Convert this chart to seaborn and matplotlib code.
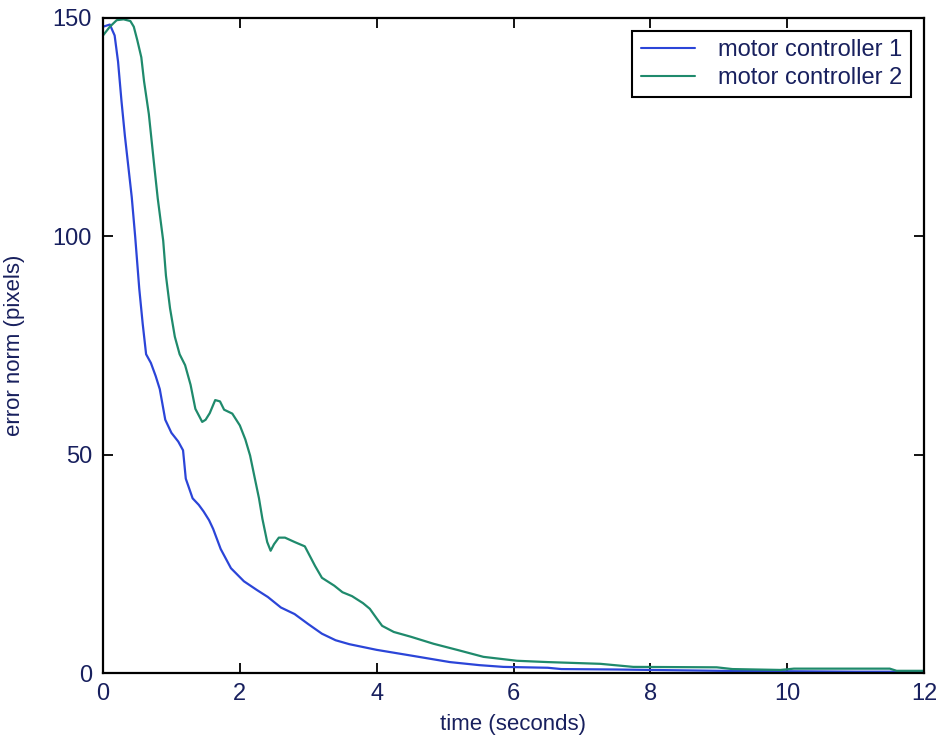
import matplotlib
matplotlib.use("Agg")
import matplotlib.pyplot as plt
import numpy as np
import pandas as pd
import seaborn as sns

# Error norm over time for the two motor controllers
t_ctrl1 = [0.0, 0.1, 0.17, 0.22, 0.27, 0.32, 0.37, 0.42, 0.47, 0.53, 0.58, 0.63,
           0.70, 0.77, 0.83, 0.91, 1.00, 1.10, 1.17, 1.21, 1.31, 1.40, 1.47, 1.55,
           1.61, 1.72, 1.87, 2.06, 2.25, 2.41, 2.60, 2.80, 3.00, 3.20, 3.40, 3.60,
           4.00, 4.50, 5.07, 5.50, 5.85, 6.50, 6.70, 7.50, 8.00, 9.00, 10.0, 11.0, 12.0]
err_ctrl1 = [148, 148.5, 146, 140, 131, 123, 116, 109, 100, 88, 80, 73,
             71, 68, 65, 58, 55, 53, 51, 44.5, 40, 38.5, 37, 35,
             33, 28.4, 24, 21, 19, 17.4, 15, 13.5, 11.2, 9, 7.5, 6.6,
             5.3, 4, 2.5, 1.8, 1.4, 1.2, 0.9, 0.8, 0.7, 0.5, 0.4, 0.3, 0.3]

t_ctrl2 = [0.0, 0.1, 0.2, 0.3, 0.4, 0.45, 0.5, 0.56, 0.6, 0.67, 0.75, 0.8,
           0.88, 0.92, 0.98, 1.05, 1.12, 1.2, 1.28, 1.35, 1.45, 1.5, 1.56, 1.64,
           1.71, 1.77, 1.89, 2.0, 2.08, 2.15, 2.22, 2.28, 2.33, 2.40, 2.45, 2.50,
           2.57, 2.66, 2.8, 2.95, 3.05, 3.1, 3.2, 3.38, 3.5, 3.64, 3.8, 3.9,
           4.0, 4.08, 4.25, 4.5, 4.83, 5.2, 5.56, 6.05, 6.5, 7.27, 7.75, 8.97,
           9.2, 9.9, 10.1, 11.5, 11.6, 12.0]
err_ctrl2 = [146, 148, 149.5, 149.7, 149.3, 148, 145, 141, 135.5, 128, 116, 108.7,
             99, 91, 83.5, 77, 73, 70.5, 66, 60.5, 57.5, 58, 59.5, 62.5,
             62.2, 60.3, 59.4, 56.7, 53.5, 49.8, 44.5, 40, 35.3, 30, 28, 29.5,
             31, 31, 30, 29, 26, 24.5, 21.8, 20, 18.5, 17.6, 16, 14.7,
             12.5, 10.8, 9.4, 8.3, 6.7, 5.2, 3.7, 2.8, 2.5, 2.1, 1.4, 1.3,
             0.9, 0.7, 1.0, 1.0, 0.5, 0.5]

series_names = ["motor controller 1", "motor controller 2"]
x_ticks = [0, 2, 4, 6, 8, 10, 12]
y_ticks = [0, 50, 100, 150]

df = pd.concat([
    pd.DataFrame({"time": t_ctrl1, "error": err_ctrl1, "series": series_names[0]}),
    pd.DataFrame({"time": t_ctrl2, "error": err_ctrl2, "series": series_names[1]}),
], ignore_index=True)

sns.set_style("white")
plt.rcParams["font.family"] = ["Liberation Sans", "DejaVu Sans"]

text_color = "#18205e"
palette = {series_names[0]: "#2b45d8", series_names[1]: "#1f8a6c"}

fig = plt.figure(figsize=(9.41, 7.45), dpi=100)
ax = fig.add_axes([103 / 941, 1 - 673 / 745, (924 - 103) / 941, (673 - 18) / 745])

sns.lineplot(data=df, x="time", y="error", hue="series", palette=palette,
             linewidth=1.6, ax=ax, sort=False, estimator=None)

ax.set_xlim(0, 12)
ax.set_ylim(0, 150)
ax.set_xticks(x_ticks)
ax.set_yticks(y_ticks)
ax.set_xticklabels([str(v) for v in x_ticks])
ax.set_yticklabels([str(v) for v in y_ticks])

for side in ["top", "right", "bottom", "left"]:
    ax.spines[side].set_visible(True)
    ax.spines[side].set_color("black")
    ax.spines[side].set_linewidth(1.6)

ax.tick_params(axis="both", which="major", direction="in", length=7, width=1.3,
               color="black", labelsize=17, labelcolor=text_color,
               top=True, right=True, bottom=True, left=True, pad=7)
ax.tick_params(axis="y", pad=8)

ax.set_xlabel("time (seconds)", fontsize=16, color=text_color, labelpad=7)
ax.set_ylabel("error norm (pixels)", fontsize=16, color=text_color, labelpad=20)

leg = ax.legend(loc="upper right", fontsize=17, frameon=True, fancybox=False,
                edgecolor="black", framealpha=1, borderpad=0.35,
                handlelength=2.3, handletextpad=1.0, labelspacing=0.25,
                borderaxespad=0.55, title=None)
leg.get_frame().set_linewidth(1.5)
for txt in leg.get_texts():
    txt.set_color(text_color)
for line in leg.get_lines():
    line.set_linewidth(1.5)

fig.savefig("out.png", dpi=100, facecolor="white")
